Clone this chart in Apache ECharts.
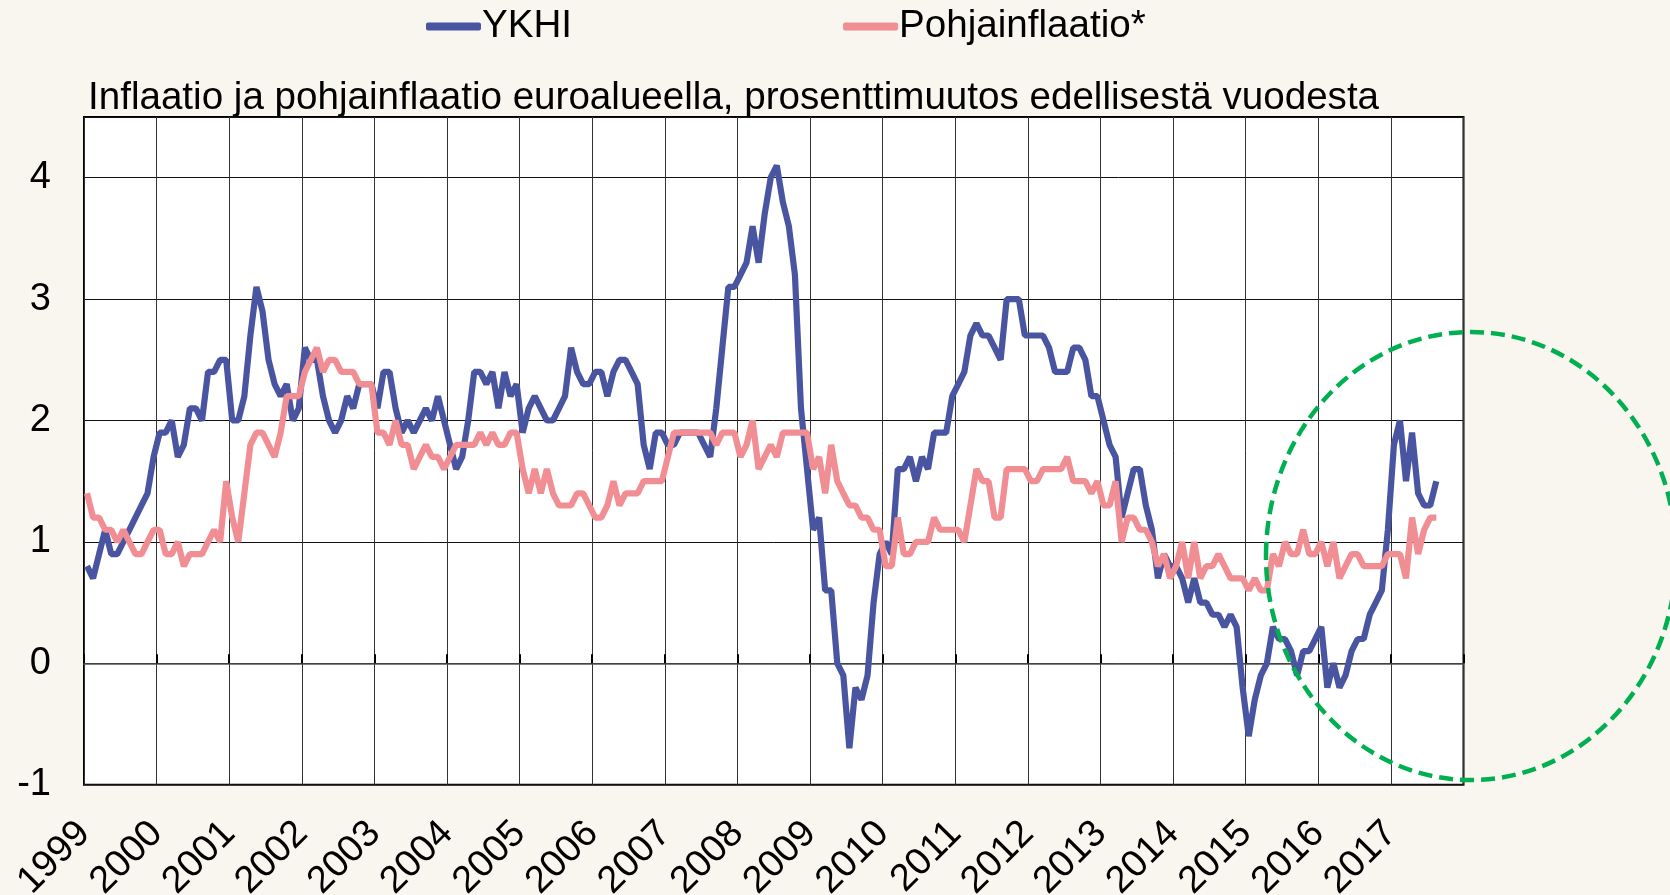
<!DOCTYPE html>
<html>
<head>
<meta charset="utf-8">
<script src="https://cdn.jsdelivr.net/npm/echarts@6/dist/echarts.min.js"></script>
<style>
html,body{margin:0;padding:0;background:#f9f5ef;}
#c{width:1670px;height:895px;}
</style>
</head>
<body>
<div id="c"></div>
<script>
const years = [1999,2000,2001,2002,2003,2004,2005,2006,2007,2008,2009,2010,2011,2012,2013,2014,2015,2016,2017];
const monthNums = ['01','02','03','04','05','06','07','08','09','10','11','12'];
const categories = [];
years.forEach(function(y){ monthNums.forEach(function(m){ categories.push(y + '-' + m); }); });

const seriesNames = ['YKHI', 'Pohjainflaatio*'];
const titleText = 'Inflaatio ja pohjainflaatio euroalueella, prosenttimuutos edellisestä vuodesta';

// YKHI, monthly, Jan 1999 - Aug 2017
const ykhi = [
  0.8, 0.7, 0.9, 1.1, 0.9, 0.9, 1.0, 1.1, 1.2, 1.3, 1.4, 1.7,
  1.9, 1.9, 2.0, 1.7, 1.8, 2.1, 2.1, 2.0, 2.4, 2.4, 2.5, 2.5,
  2.0, 2.0, 2.2, 2.7, 3.1, 2.9, 2.5, 2.3, 2.2, 2.3, 2.0, 2.1,
  2.6, 2.5, 2.5, 2.2, 2.0, 1.9, 2.0, 2.2, 2.1, 2.3, 2.3, 2.3,
  2.1, 2.4, 2.4, 2.1, 1.9, 2.0, 1.9, 2.0, 2.1, 2.0, 2.2, 2.0,
  1.8, 1.6, 1.7, 2.0, 2.4, 2.4, 2.3, 2.4, 2.1, 2.4, 2.2, 2.3,
  1.9, 2.1, 2.2, 2.1, 2.0, 2.0, 2.1, 2.2, 2.6, 2.4, 2.3, 2.3,
  2.4, 2.4, 2.2, 2.4, 2.5, 2.5, 2.4, 2.3, 1.8, 1.6, 1.9, 1.9,
  1.8, 1.8, 1.9, 1.9, 1.9, 1.9, 1.8, 1.7, 2.1, 2.6, 3.1, 3.1,
  3.2, 3.3, 3.6, 3.3, 3.7, 4.0, 4.1, 3.8, 3.6, 3.2, 2.1, 1.6,
  1.1, 1.2, 0.6, 0.6, 0.0, -0.1, -0.7, -0.2, -0.3, -0.1, 0.5, 0.9,
  1.0, 0.9, 1.6, 1.6, 1.7, 1.5, 1.7, 1.6, 1.9, 1.9, 1.9, 2.2,
  2.3, 2.4, 2.7, 2.8, 2.7, 2.7, 2.6, 2.5, 3.0, 3.0, 3.0, 2.7,
  2.7, 2.7, 2.7, 2.6, 2.4, 2.4, 2.4, 2.6, 2.6, 2.5, 2.2, 2.2,
  2.0, 1.8, 1.7, 1.2, 1.4, 1.6, 1.6, 1.3, 1.1, 0.7, 0.9, 0.8,
  0.8, 0.7, 0.5, 0.7, 0.5, 0.5, 0.4, 0.4, 0.3, 0.4, 0.3, -0.2,
  -0.6, -0.3, -0.1, 0.0, 0.3, 0.2, 0.2, 0.1, -0.1, 0.1, 0.1, 0.2,
  0.3, -0.2, 0.0, -0.2, -0.1, 0.1, 0.2, 0.2, 0.4, 0.5, 0.6, 1.1,
  1.8, 2.0, 1.5, 1.9, 1.4, 1.3, 1.3, 1.5
];

// Pohjainflaatio*, monthly, Jan 1999 - Aug 2017
const pohjainflaatio = [
  1.4, 1.2, 1.2, 1.1, 1.1, 1.0, 1.1, 1.0, 0.9, 0.9, 1.0, 1.1,
  1.1, 0.9, 0.9, 1.0, 0.8, 0.9, 0.9, 0.9, 1.0, 1.1, 1.0, 1.5,
  1.2, 1.0, 1.4, 1.8, 1.9, 1.9, 1.8, 1.7, 1.9, 2.2, 2.2, 2.2,
  2.4, 2.5, 2.6, 2.4, 2.5, 2.5, 2.4, 2.4, 2.4, 2.3, 2.3, 2.3,
  1.9, 1.9, 1.8, 2.0, 1.8, 1.8, 1.6, 1.7, 1.8, 1.7, 1.7, 1.6,
  1.7, 1.8, 1.8, 1.8, 1.8, 1.9, 1.8, 1.9, 1.8, 1.8, 1.9, 1.9,
  1.6, 1.4, 1.6, 1.4, 1.6, 1.4, 1.3, 1.3, 1.3, 1.4, 1.4, 1.3,
  1.2, 1.2, 1.3, 1.5, 1.3, 1.4, 1.4, 1.4, 1.5, 1.5, 1.5, 1.5,
  1.7, 1.9, 1.9, 1.9, 1.9, 1.9, 1.9, 1.9, 1.8, 1.9, 1.9, 1.9,
  1.7, 1.8, 2.0, 1.6, 1.7, 1.8, 1.7, 1.9, 1.9, 1.9, 1.9, 1.9,
  1.6, 1.7, 1.4, 1.8, 1.5, 1.4, 1.3, 1.3, 1.2, 1.2, 1.1, 1.1,
  0.8, 0.8, 1.2, 0.9, 0.9, 1.0, 1.0, 1.0, 1.2, 1.1, 1.1, 1.1,
  1.1, 1.0, 1.3, 1.6, 1.5, 1.5, 1.2, 1.2, 1.6, 1.6, 1.6, 1.6,
  1.5, 1.5, 1.6, 1.6, 1.6, 1.6, 1.7, 1.5, 1.5, 1.5, 1.4, 1.5,
  1.3, 1.3, 1.5, 1.0, 1.2, 1.2, 1.1, 1.1, 1.0, 0.8, 0.9, 0.7,
  0.8, 1.0, 0.7, 1.0, 0.7, 0.8, 0.8, 0.9, 0.8, 0.7, 0.7, 0.7,
  0.6, 0.7, 0.6, 0.6, 0.9, 0.8, 1.0, 0.9, 0.9, 1.1, 0.9, 0.9,
  1.0, 0.8, 1.0, 0.7, 0.8, 0.9, 0.9, 0.8, 0.8, 0.8, 0.8, 0.9,
  0.9, 0.9, 0.7, 1.2, 0.9, 1.1, 1.2, 1.2
];

const yTickLabels = ['-1', '0', '1', '2', '3', '4'];

const FONT = '"Liberation Sans", Arial, sans-serif';
const BLUE = '#4a55a2';
const PINK = '#f18e94';

const chart = echarts.init(document.getElementById('c'), null, {renderer: 'canvas'});
chart.setOption({
  backgroundColor: '#f9f5ef',
  animation: false,
  title: {
    text: titleText,
    left: 88, top: 79, padding: 0,
    textStyle: {fontSize: 38.6, fontWeight: 'normal', color: '#000', fontFamily: FONT}
  },
  legend: {
    data: seriesNames,
    left: 426, top: 7, padding: 0,
    itemWidth: 55, itemHeight: 8, itemGap: 271,
    icon: 'roundRect',
    textStyle: {fontSize: 38.6, color: '#000', fontFamily: FONT, padding: [0, 0, 0, -4]}
  },
  grid: {
    left: 84, right: 206.5, top: 117, bottom: 110.3,
    show: true, backgroundColor: '#ffffff', borderColor: '#000', borderWidth: 2,
    outerBoundsMode: 'none'
  },
  xAxis: [
    {
      type: 'category', data: categories, boundaryGap: true, position: 'bottom',
      axisLine: {show: false, onZero: false},
      axisTick: {show: false, interval: 11},
      axisLabel: {show: false},
      splitLine: {show: true, interval: 11, lineStyle: {color: '#333', width: 1}}
    },
    {
      type: 'category', data: categories, boundaryGap: true, position: 'bottom',
      axisLine: {show: true, onZero: true, lineStyle: {color: '#555', width: 1.5}},
      axisTick: {show: true, interval: 11, inside: true, length: 9, lineStyle: {color: '#000', width: 2}},
      axisLabel: {show: false},
      splitLine: {show: false}
    },
    {
      // year labels: months elapsed since Jan 1999, one label per 12 months
      type: 'value', min: 0, max: categories.length, interval: 12, position: 'bottom',
      axisLine: {show: false, onZero: false},
      axisTick: {show: false},
      splitLine: {show: false},
      axisLabel: {
        rotate: 45, margin: 43, fontSize: 38, color: '#000', fontFamily: FONT,
        showMaxLabel: false, hideOverlap: false,
        formatter: function(v){ return String(years[0] + v / 12); }
      }
    }
  ],
  yAxis: {
    type: 'value', min: -1, max: 4.5, interval: 1,
    axisLine: {show: false}, axisTick: {show: false},
    axisLabel: {
      fontSize: 38, color: '#000', fontFamily: FONT, margin: 33, showMaxLabel: false,
      formatter: function(v){ return yTickLabels.indexOf(String(v)) >= 0 ? String(v) : ''; }
    },
    splitLine: {show: true, lineStyle: {color: '#111', width: 1}}
  },
  series: [
    {
      name: seriesNames[0], type: 'line', data: ykhi, xAxisIndex: 0,
      symbol: 'none', showSymbol: false,
      lineStyle: {color: BLUE, width: 6.2}, itemStyle: {color: BLUE}, z: 3
    },
    {
      name: seriesNames[1], type: 'line', data: pohjainflaatio, xAxisIndex: 0,
      symbol: 'none', showSymbol: false,
      lineStyle: {color: PINK, width: 6.2}, itemStyle: {color: PINK}, z: 4
    }
  ],
  graphic: [
    {
      type: 'ellipse', z: 100, silent: true,
      shape: {cx: 1471, cy: 556, rx: 205, ry: 224},
      style: {fill: 'none', stroke: '#00b050', lineWidth: 4.5, lineDash: [14, 7]}
    }
  ]
});
</script>
</body>
</html>
